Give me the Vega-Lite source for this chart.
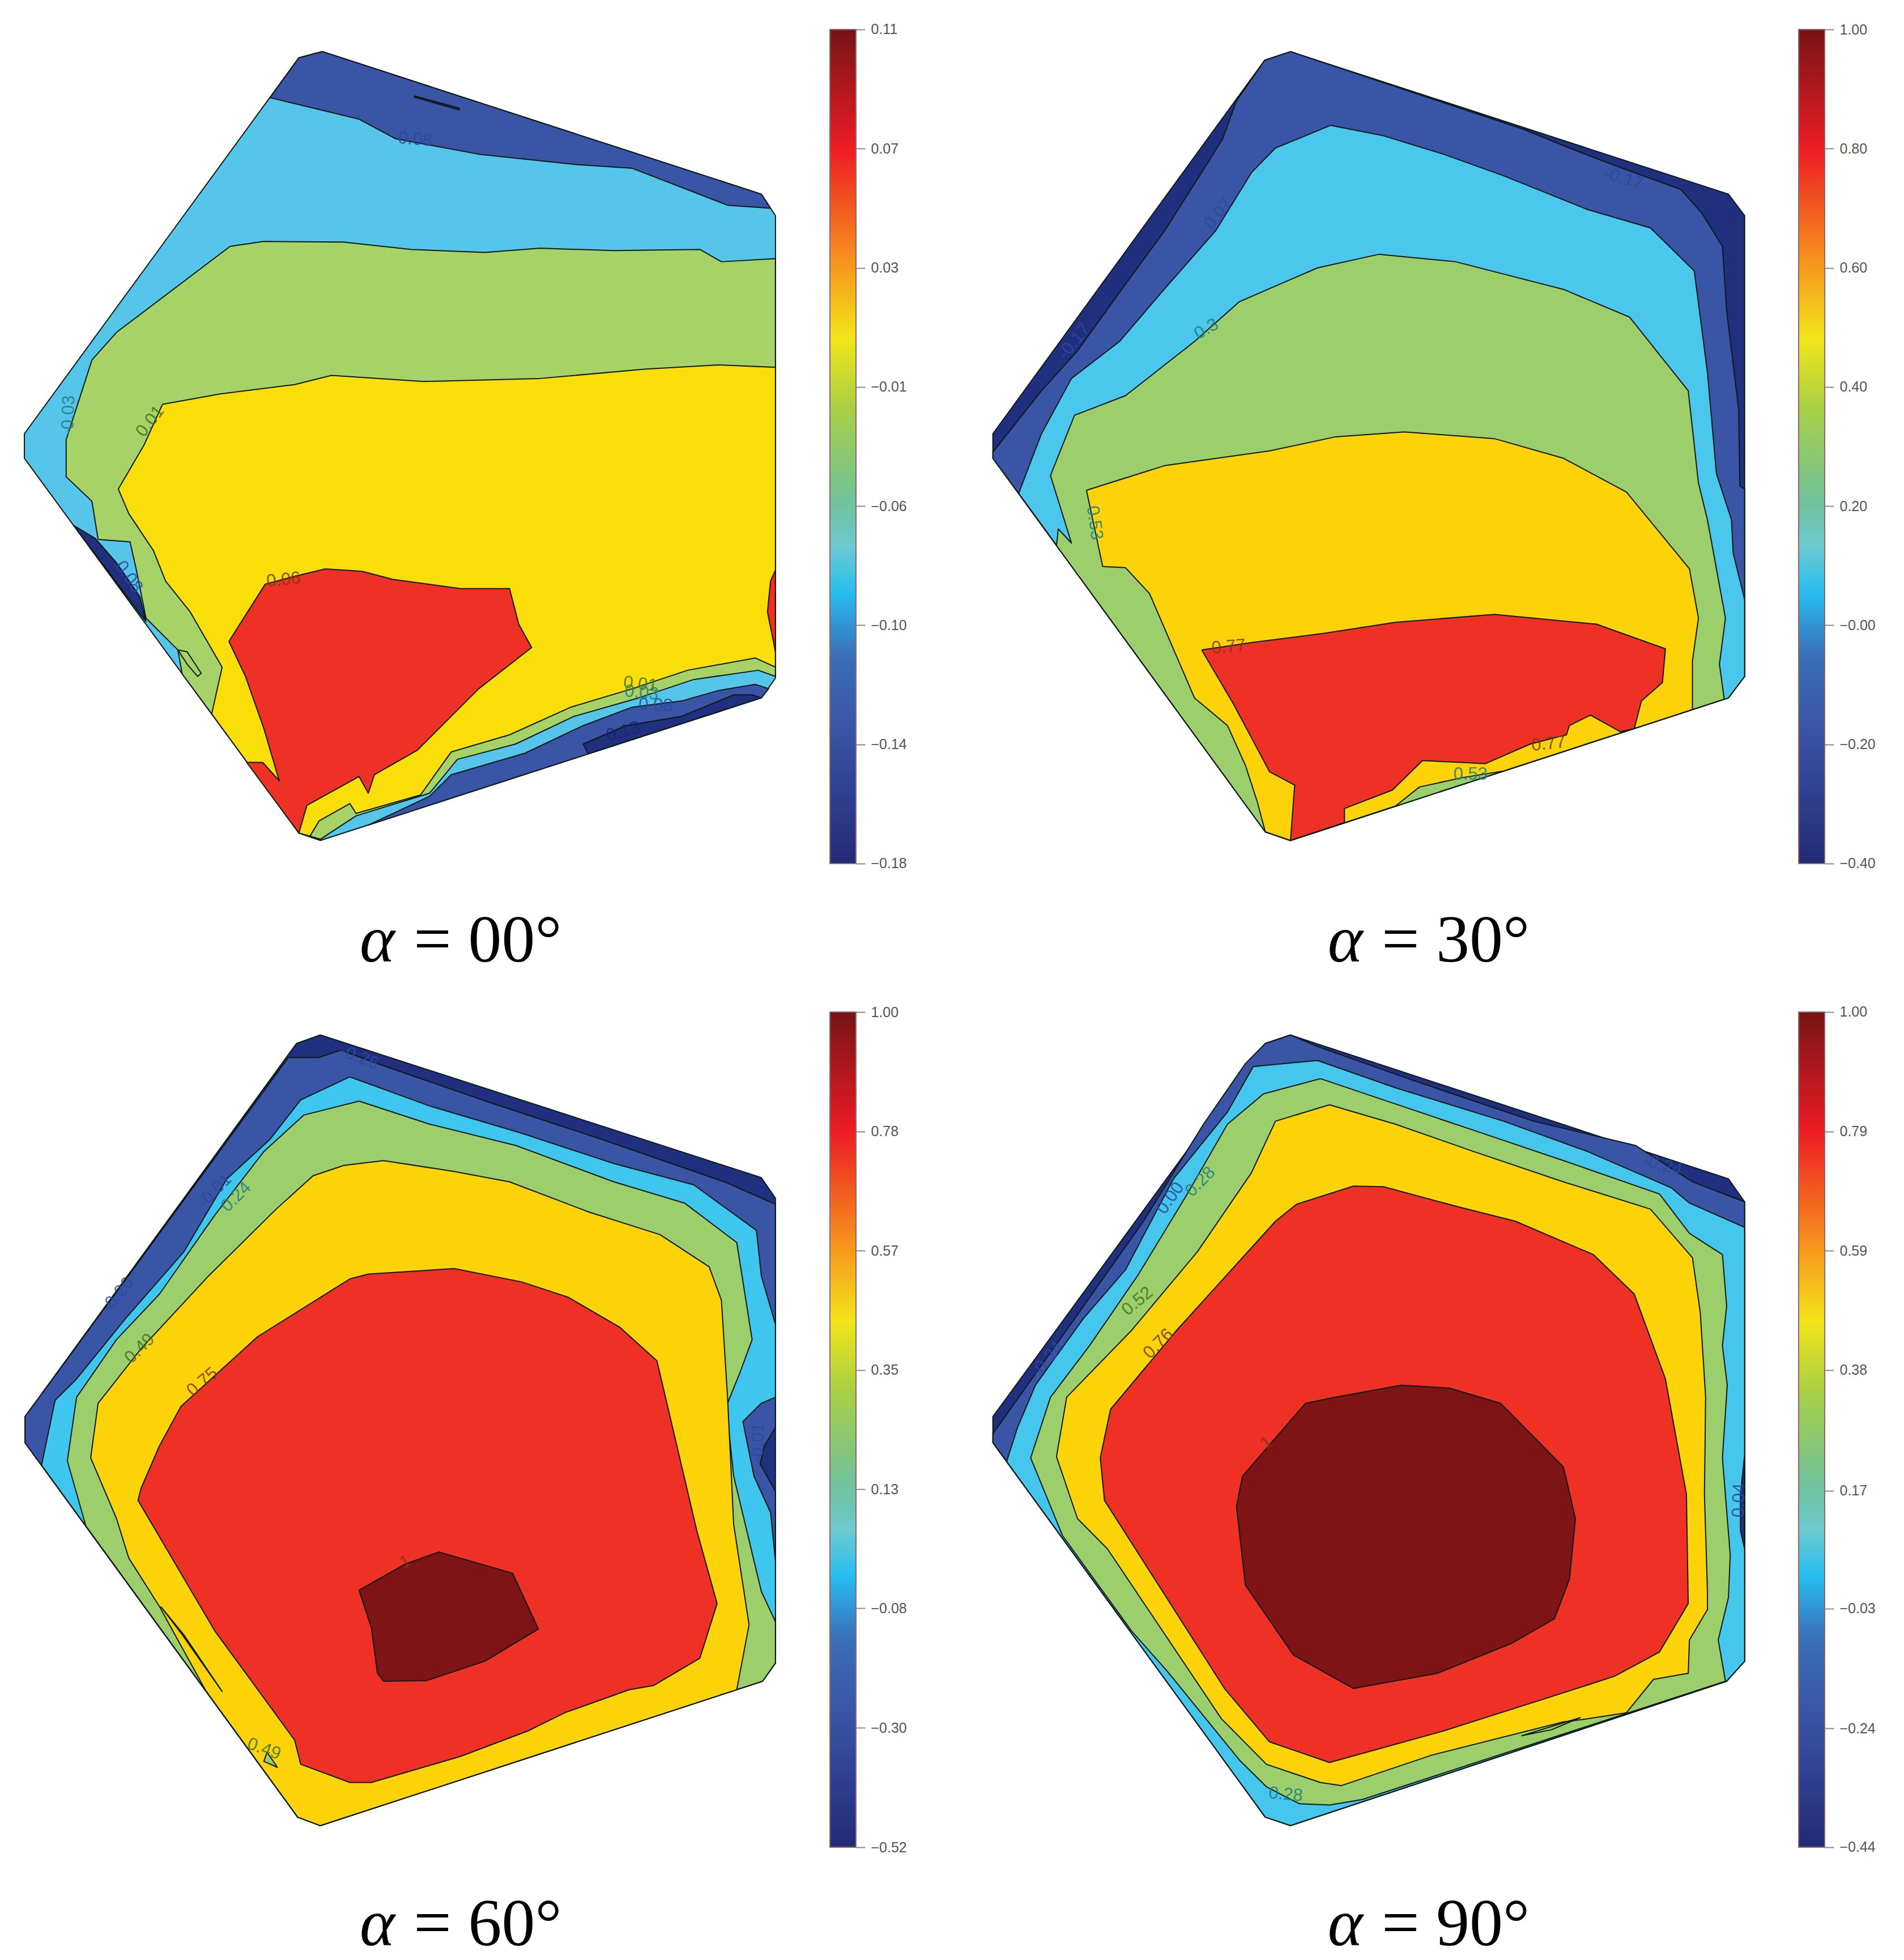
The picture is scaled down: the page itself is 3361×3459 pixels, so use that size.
{"$schema":"https://vega.github.io/schema/vega-lite/v6.json","background":"#ffffff","padding":0,"autosize":{"type":"pad"},"columns":4,"spacing":0,"bounds":"flush","config":{"view":{"stroke":null}},"resolve":{"scale":{"color":"independent","x":"independent","y":"independent"}},
"concat":[
{"width":1465,"height":1738,"encoding":{"x":{"field":"x","type":"quantitative","axis":null,"scale":{"domain":[0.3,1351.7],"nice":false,"zero":false}},"y":{"field":"y","type":"quantitative","axis":null,"scale":{"domain":[1557,-46],"nice":false,"zero":false}}},"resolve":{"scale":{"color":"independent"}},"layer":[
{"data":{"values":[
{"shape":"a","band":"cyan","x":525,"y":38},{"shape":"a","band":"cyan","x":487,"y":48},{"shape":"a","band":"cyan","x":40,"y":660},{"shape":"a","band":"cyan","x":40,"y":700},{"shape":"a","band":"cyan","x":487,"y":1310},{"shape":"a","band":"cyan","x":522,"y":1322},{"shape":"a","band":"cyan","x":1240,"y":1090},{"shape":"a","band":"cyan","x":1263,"y":1058},{"shape":"a","band":"cyan","x":1263,"y":305},{"shape":"a","band":"cyan","x":1240,"y":270},{"shape":"a","band":"cyan","x":525,"y":38},
{"shape":"b","band":"blue","x":525,"y":38},{"shape":"b","band":"blue","x":487,"y":48},{"shape":"b","band":"blue","x":440,"y":113},{"shape":"b","band":"blue","x":585,"y":148},{"shape":"b","band":"blue","x":645,"y":180},{"shape":"b","band":"blue","x":780,"y":205},{"shape":"b","band":"blue","x":940,"y":222},{"shape":"b","band":"blue","x":1030,"y":228},{"shape":"b","band":"blue","x":1185,"y":288},{"shape":"b","band":"blue","x":1255,"y":293},{"shape":"b","band":"blue","x":1240,"y":270},{"shape":"b","band":"blue","x":525,"y":38},
{"shape":"c","band":"navy","x":675,"y":110},{"shape":"c","band":"navy","x":748,"y":130},{"shape":"c","band":"navy","x":748,"y":133},{"shape":"c","band":"navy","x":675,"y":112},{"shape":"c","band":"navy","x":675,"y":110},
{"shape":"d","band":"navy","x":120,"y":809},{"shape":"d","band":"navy","x":155,"y":830},{"shape":"d","band":"navy","x":190,"y":870},{"shape":"d","band":"navy","x":228,"y":925},{"shape":"d","band":"navy","x":238,"y":966},{"shape":"d","band":"navy","x":120,"y":809},
{"shape":"e","band":"green","x":375,"y":355},{"shape":"e","band":"green","x":430,"y":347},{"shape":"e","band":"green","x":560,"y":348},{"shape":"e","band":"green","x":670,"y":360},{"shape":"e","band":"green","x":790,"y":365},{"shape":"e","band":"green","x":880,"y":358},{"shape":"e","band":"green","x":1000,"y":362},{"shape":"e","band":"green","x":1140,"y":360},{"shape":"e","band":"green","x":1175,"y":380},{"shape":"e","band":"green","x":1263,"y":375},{"shape":"e","band":"green","x":1263,"y":1055},{"shape":"e","band":"green","x":1235,"y":1045},{"shape":"e","band":"green","x":1130,"y":1060},{"shape":"e","band":"green","x":1040,"y":1090},{"shape":"e","band":"green","x":935,"y":1120},{"shape":"e","band":"green","x":840,"y":1165},{"shape":"e","band":"green","x":745,"y":1190},{"shape":"e","band":"green","x":700,"y":1245},{"shape":"e","band":"green","x":580,"y":1282},{"shape":"e","band":"green","x":522,"y":1320},{"shape":"e","band":"green","x":505,"y":1315},{"shape":"e","band":"green","x":345,"y":1116},{"shape":"e","band":"green","x":297,"y":1051},{"shape":"e","band":"green","x":290,"y":1012},{"shape":"e","band":"green","x":305,"y":1015},{"shape":"e","band":"green","x":328,"y":1050},{"shape":"e","band":"green","x":322,"y":1055},{"shape":"e","band":"green","x":305,"y":1035},{"shape":"e","band":"green","x":290,"y":1012},{"shape":"e","band":"green","x":238,"y":960},{"shape":"e","band":"green","x":222,"y":880},{"shape":"e","band":"green","x":212,"y":836},{"shape":"e","band":"green","x":160,"y":832},{"shape":"e","band":"green","x":150,"y":770},{"shape":"e","band":"green","x":108,"y":730},{"shape":"e","band":"green","x":108,"y":670},{"shape":"e","band":"green","x":150,"y":540},{"shape":"e","band":"green","x":190,"y":495},{"shape":"e","band":"green","x":375,"y":355},
{"shape":"f","band":"yellow","x":265,"y":612},{"shape":"f","band":"yellow","x":360,"y":595},{"shape":"f","band":"yellow","x":480,"y":580},{"shape":"f","band":"yellow","x":540,"y":565},{"shape":"f","band":"yellow","x":690,"y":575},{"shape":"f","band":"yellow","x":880,"y":570},{"shape":"f","band":"yellow","x":1050,"y":555},{"shape":"f","band":"yellow","x":1170,"y":548},{"shape":"f","band":"yellow","x":1263,"y":552},{"shape":"f","band":"yellow","x":1263,"y":1040},{"shape":"f","band":"yellow","x":1230,"y":1025},{"shape":"f","band":"yellow","x":1120,"y":1045},{"shape":"f","band":"yellow","x":1030,"y":1075},{"shape":"f","band":"yellow","x":930,"y":1105},{"shape":"f","band":"yellow","x":830,"y":1150},{"shape":"f","band":"yellow","x":735,"y":1178},{"shape":"f","band":"yellow","x":685,"y":1248},{"shape":"f","band":"yellow","x":580,"y":1278},{"shape":"f","band":"yellow","x":570,"y":1262},{"shape":"f","band":"yellow","x":520,"y":1290},{"shape":"f","band":"yellow","x":505,"y":1315},{"shape":"f","band":"yellow","x":487,"y":1310},{"shape":"f","band":"yellow","x":345,"y":1116},{"shape":"f","band":"yellow","x":362,"y":1040},{"shape":"f","band":"yellow","x":310,"y":950},{"shape":"f","band":"yellow","x":270,"y":900},{"shape":"f","band":"yellow","x":250,"y":850},{"shape":"f","band":"yellow","x":210,"y":790},{"shape":"f","band":"yellow","x":193,"y":750},{"shape":"f","band":"yellow","x":235,"y":678},{"shape":"f","band":"yellow","x":265,"y":612},
{"shape":"g","band":"red","x":432,"y":905},{"shape":"g","band":"red","x":480,"y":892},{"shape":"g","band":"red","x":530,"y":880},{"shape":"g","band":"red","x":590,"y":884},{"shape":"g","band":"red","x":640,"y":897},{"shape":"g","band":"red","x":750,"y":912},{"shape":"g","band":"red","x":830,"y":912},{"shape":"g","band":"red","x":845,"y":970},{"shape":"g","band":"red","x":866,"y":1008},{"shape":"g","band":"red","x":780,"y":1075},{"shape":"g","band":"red","x":730,"y":1125},{"shape":"g","band":"red","x":680,"y":1175},{"shape":"g","band":"red","x":610,"y":1215},{"shape":"g","band":"red","x":600,"y":1245},{"shape":"g","band":"red","x":585,"y":1218},{"shape":"g","band":"red","x":500,"y":1265},{"shape":"g","band":"red","x":487,"y":1310},{"shape":"g","band":"red","x":402,"y":1195},{"shape":"g","band":"red","x":428,"y":1195},{"shape":"g","band":"red","x":455,"y":1225},{"shape":"g","band":"red","x":430,"y":1140},{"shape":"g","band":"red","x":400,"y":1055},{"shape":"g","band":"red","x":373,"y":998},{"shape":"g","band":"red","x":432,"y":905},
{"shape":"h","band":"red","x":1263,"y":882},{"shape":"h","band":"red","x":1255,"y":900},{"shape":"h","band":"red","x":1250,"y":950},{"shape":"h","band":"red","x":1258,"y":990},{"shape":"h","band":"red","x":1263,"y":1015},{"shape":"h","band":"red","x":1263,"y":882},
{"shape":"i","band":"blue","x":1230,"y":1068},{"shape":"i","band":"blue","x":1170,"y":1078},{"shape":"i","band":"blue","x":1110,"y":1095},{"shape":"i","band":"blue","x":1030,"y":1105},{"shape":"i","band":"blue","x":950,"y":1135},{"shape":"i","band":"blue","x":855,"y":1180},{"shape":"i","band":"blue","x":735,"y":1215},{"shape":"i","band":"blue","x":700,"y":1250},{"shape":"i","band":"blue","x":600,"y":1297},{"shape":"i","band":"blue","x":1240,"y":1090},{"shape":"i","band":"blue","x":1252,"y":1075},{"shape":"i","band":"blue","x":1230,"y":1068},
{"shape":"j","band":"navy","x":1240,"y":1090},{"shape":"j","band":"navy","x":1225,"y":1085},{"shape":"j","band":"navy","x":1195,"y":1085},{"shape":"j","band":"navy","x":1110,"y":1120},{"shape":"j","band":"navy","x":1020,"y":1135},{"shape":"j","band":"navy","x":950,"y":1165},{"shape":"j","band":"navy","x":958,"y":1181},{"shape":"j","band":"navy","x":1240,"y":1090}
]},"mark":{"type":"line","filled":true,"stroke":"#0c1a16","strokeWidth":2,"strokeJoin":"round"},"encoding":{"detail":{"field":"shape"},"order":{"value":null},"color":{"field":"band","type":"nominal","legend":null,"scale":{"domain":["navy","blue","cyan","green","yellow","red","maroon"],"range":["#20307f","#3a55a5","#55c6ea","#a6d267","#fade0a","#ee3124","#7f1416"]}}}},
{"data":{"values":[
{"x":676,"y":181,"label":"0.08","angle":5,"tone":"blue"},{"x":112,"y":630,"label":"-0.03","angle":-88,"tone":"teal"},{"x":245,"y":640,"label":"0.01","angle":-52,"tone":"olive"},{"x":462,"y":898,"label":"0.06","angle":-6,"tone":"rust"},{"x":210,"y":893,"label":"0.08","angle":55,"tone":"blue"},{"x":1043,"y":1068,"label":"0.01","angle":6,"tone":"olive"},{"x":1045,"y":1082,"label":"0.03","angle":6,"tone":"teal"},{"x":1068,"y":1102,"label":"0.08","angle":2,"tone":"blue"},{"x":1015,"y":1145,"label":"0.13","angle":-16,"tone":"navy"}
]},"mark":{"type":"text","font":"Liberation Sans","fontSize":31,"opacity":0.85},"encoding":{"text":{"field":"label"},"angle":{"field":"angle","type":"quantitative","scale":null},"color":{"field":"tone","type":"nominal","legend":null,"scale":{"domain":["navy","blue","teal","olive","rust"],"range":["#1b2370","#2a4aa0","#1f7f85","#46701f","#7d3a18"]}}}},
{"data":{"values":[{"x":586,"y":1519.5,"text":"α"}]},"mark":{"type":"text","font":"Liberation Serif","fontStyle":"italic","fontSize":118,"align":"left","baseline":"alphabetic","color":"#000000"},"encoding":{"text":{"field":"text"}}},
{"data":{"values":[{"x":674,"y":1519.5,"text":"= 00°"}]},"mark":{"type":"text","font":"Liberation Serif","fontSize":118,"align":"left","baseline":"alphabetic","color":"#000000"},"encoding":{"text":{"field":"text"}}}
]},
{"width":46,"height":1738,"data":{"values":[{"low":-0.18,"high":0.11}]},"mark":{"type":"rect","stroke":"#8f6a6a","strokeWidth":2,"fill":{"gradient":"linear","x1":0,"y1":0,"x2":0,"y2":1,"stops":[{"offset":0,"color":"#761417"},{"offset":0.143,"color":"#ed1c24"},{"offset":0.28,"color":"#f7941d"},{"offset":0.37,"color":"#f2e51a"},{"offset":0.455,"color":"#a8cf45"},{"offset":0.565,"color":"#70c19a"},{"offset":0.62,"color":"#6dcad0"},{"offset":0.675,"color":"#27bdef"},{"offset":0.75,"color":"#3a6fb8"},{"offset":0.845,"color":"#3a53a4"},{"offset":1,"color":"#232a78"}]}},"encoding":{"y":{"field":"high","type":"quantitative","scale":{"domain":[-0.22216,0.12024],"nice":false,"zero":false},"axis":{"orient":"right","title":null,"domain":false,"grid":false,"values":[0.11,0.0686,0.0271,-0.0143,-0.0557,-0.0971,-0.1386,-0.18],"format":".2f","tickColor":"#8a8a8a","tickSize":16,"tickWidth":2,"labelFont":"Liberation Sans","labelFontSize":25,"labelColor":"#555555","labelPadding":10,"labelOverlap":false,"labelBound":false,"labelFlush":false}},"y2":{"field":"low"}}},
{"width":1664,"height":1738,"encoding":{"x":{"field":"x","type":"quantitative","axis":null,"scale":{"domain":[-179.2,1392],"nice":false,"zero":false}},"y":{"field":"y","type":"quantitative","axis":null,"scale":{"domain":[1557,-46],"nice":false,"zero":false}}},"resolve":{"scale":{"color":"independent"}},"layer":[
{"data":{"values":[
{"shape":"a","band":"navy","x":545,"y":38},{"shape":"a","band":"navy","x":502,"y":52},{"shape":"a","band":"navy","x":49,"y":660},{"shape":"a","band":"navy","x":49,"y":700},{"shape":"a","band":"navy","x":503,"y":1308},{"shape":"a","band":"navy","x":545,"y":1322},{"shape":"a","band":"navy","x":1275,"y":1090},{"shape":"a","band":"navy","x":1302,"y":1055},{"shape":"a","band":"navy","x":1302,"y":305},{"shape":"a","band":"navy","x":1275,"y":270},{"shape":"a","band":"navy","x":545,"y":38},
{"shape":"b","band":"blue","x":545,"y":38},{"shape":"b","band":"blue","x":935,"y":165},{"shape":"b","band":"blue","x":1010,"y":195},{"shape":"b","band":"blue","x":1090,"y":225},{"shape":"b","band":"blue","x":1195,"y":262},{"shape":"b","band":"blue","x":1230,"y":300},{"shape":"b","band":"blue","x":1265,"y":355},{"shape":"b","band":"blue","x":1272,"y":460},{"shape":"b","band":"blue","x":1292,"y":620},{"shape":"b","band":"blue","x":1294,"y":745},{"shape":"b","band":"blue","x":1302,"y":750},{"shape":"b","band":"blue","x":1302,"y":932},{"shape":"b","band":"blue","x":1302,"y":1055},{"shape":"b","band":"blue","x":1275,"y":1090},{"shape":"b","band":"blue","x":545,"y":1322},{"shape":"b","band":"blue","x":503,"y":1308},{"shape":"b","band":"blue","x":49,"y":700},{"shape":"b","band":"blue","x":49,"y":690},{"shape":"b","band":"blue","x":130,"y":590},{"shape":"b","band":"blue","x":190,"y":525},{"shape":"b","band":"blue","x":260,"y":430},{"shape":"b","band":"blue","x":335,"y":330},{"shape":"b","band":"blue","x":400,"y":230},{"shape":"b","band":"blue","x":432,"y":180},{"shape":"b","band":"blue","x":455,"y":118},{"shape":"b","band":"blue","x":502,"y":52},{"shape":"b","band":"blue","x":545,"y":38},
{"shape":"c","band":"cyan","x":612,"y":158},{"shape":"c","band":"cyan","x":700,"y":175},{"shape":"c","band":"cyan","x":800,"y":205},{"shape":"c","band":"cyan","x":900,"y":240},{"shape":"c","band":"cyan","x":1040,"y":295},{"shape":"c","band":"cyan","x":1145,"y":325},{"shape":"c","band":"cyan","x":1218,"y":395},{"shape":"c","band":"cyan","x":1240,"y":560},{"shape":"c","band":"cyan","x":1255,"y":725},{"shape":"c","band":"cyan","x":1280,"y":800},{"shape":"c","band":"cyan","x":1283,"y":855},{"shape":"c","band":"cyan","x":1302,"y":930},{"shape":"c","band":"cyan","x":1302,"y":1055},{"shape":"c","band":"cyan","x":1275,"y":1090},{"shape":"c","band":"cyan","x":545,"y":1322},{"shape":"c","band":"cyan","x":503,"y":1308},{"shape":"c","band":"cyan","x":92,"y":757},{"shape":"c","band":"cyan","x":130,"y":660},{"shape":"c","band":"cyan","x":180,"y":570},{"shape":"c","band":"cyan","x":260,"y":510},{"shape":"c","band":"cyan","x":330,"y":430},{"shape":"c","band":"cyan","x":420,"y":330},{"shape":"c","band":"cyan","x":480,"y":235},{"shape":"c","band":"cyan","x":520,"y":195},{"shape":"c","band":"cyan","x":612,"y":158},
{"shape":"d","band":"green","x":692,"y":368},{"shape":"d","band":"green","x":820,"y":380},{"shape":"d","band":"green","x":1000,"y":425},{"shape":"d","band":"green","x":1110,"y":470},{"shape":"d","band":"green","x":1208,"y":590},{"shape":"d","band":"green","x":1225,"y":740},{"shape":"d","band":"green","x":1240,"y":800},{"shape":"d","band":"green","x":1270,"y":960},{"shape":"d","band":"green","x":1260,"y":1035},{"shape":"d","band":"green","x":1268,"y":1092},{"shape":"d","band":"green","x":545,"y":1322},{"shape":"d","band":"green","x":503,"y":1308},{"shape":"d","band":"green","x":155,"y":842},{"shape":"d","band":"green","x":158,"y":815},{"shape":"d","band":"green","x":180,"y":838},{"shape":"d","band":"green","x":145,"y":728},{"shape":"d","band":"green","x":185,"y":630},{"shape":"d","band":"green","x":270,"y":598},{"shape":"d","band":"green","x":385,"y":510},{"shape":"d","band":"green","x":460,"y":445},{"shape":"d","band":"green","x":590,"y":390},{"shape":"d","band":"green","x":692,"y":368},
{"shape":"e","band":"yellow","x":205,"y":752},{"shape":"e","band":"yellow","x":335,"y":712},{"shape":"e","band":"yellow","x":510,"y":688},{"shape":"e","band":"yellow","x":620,"y":665},{"shape":"e","band":"yellow","x":735,"y":657},{"shape":"e","band":"yellow","x":885,"y":668},{"shape":"e","band":"yellow","x":1000,"y":700},{"shape":"e","band":"yellow","x":1105,"y":755},{"shape":"e","band":"yellow","x":1210,"y":880},{"shape":"e","band":"yellow","x":1225,"y":960},{"shape":"e","band":"yellow","x":1215,"y":1030},{"shape":"e","band":"yellow","x":1215,"y":1109},{"shape":"e","band":"yellow","x":900,"y":1209},{"shape":"e","band":"yellow","x":830,"y":1220},{"shape":"e","band":"yellow","x":760,"y":1235},{"shape":"e","band":"yellow","x":720,"y":1266},{"shape":"e","band":"yellow","x":545,"y":1322},{"shape":"e","band":"yellow","x":503,"y":1308},{"shape":"e","band":"yellow","x":490,"y":1260},{"shape":"e","band":"yellow","x":470,"y":1200},{"shape":"e","band":"yellow","x":440,"y":1135},{"shape":"e","band":"yellow","x":385,"y":1090},{"shape":"e","band":"yellow","x":310,"y":920},{"shape":"e","band":"yellow","x":270,"y":878},{"shape":"e","band":"yellow","x":232,"y":876},{"shape":"e","band":"yellow","x":205,"y":752},
{"shape":"f","band":"red","x":397,"y":1012},{"shape":"f","band":"red","x":480,"y":1000},{"shape":"f","band":"red","x":600,"y":985},{"shape":"f","band":"red","x":720,"y":967},{"shape":"f","band":"red","x":885,"y":954},{"shape":"f","band":"red","x":1055,"y":970},{"shape":"f","band":"red","x":1170,"y":1010},{"shape":"f","band":"red","x":1165,"y":1065},{"shape":"f","band":"red","x":1130,"y":1095},{"shape":"f","band":"red","x":1118,"y":1140},{"shape":"f","band":"red","x":1095,"y":1145},{"shape":"f","band":"red","x":1045,"y":1118},{"shape":"f","band":"red","x":1010,"y":1135},{"shape":"f","band":"red","x":1005,"y":1150},{"shape":"f","band":"red","x":945,"y":1165},{"shape":"f","band":"red","x":870,"y":1197},{"shape":"f","band":"red","x":830,"y":1195},{"shape":"f","band":"red","x":765,"y":1192},{"shape":"f","band":"red","x":715,"y":1240},{"shape":"f","band":"red","x":635,"y":1270},{"shape":"f","band":"red","x":635,"y":1293},{"shape":"f","band":"red","x":545,"y":1322},{"shape":"f","band":"red","x":552,"y":1232},{"shape":"f","band":"red","x":510,"y":1210},{"shape":"f","band":"red","x":480,"y":1155},{"shape":"f","band":"red","x":450,"y":1100},{"shape":"f","band":"red","x":397,"y":1012}
]},"mark":{"type":"line","filled":true,"stroke":"#0c1a16","strokeWidth":2,"strokeJoin":"round"},"encoding":{"detail":{"field":"shape"},"order":{"value":null},"color":{"field":"band","type":"nominal","legend":null,"scale":{"domain":["navy","blue","cyan","green","yellow","red","maroon"],"range":["#20307f","#3a55a5","#4bc6ec","#9dce6c","#fcd309","#ee3124","#7f1416"]}}}},
{"data":{"values":[
{"x":845,"y":1215,"label":"0.53","angle":0,"tone":"teal"},{"x":975,"y":1165,"label":"0.77","angle":-6,"tone":"rust"},{"x":442,"y":1007,"label":"0.77","angle":-5,"tone":"rust"},{"x":218,"y":805,"label":"0.53","angle":82,"tone":"teal"},{"x":405,"y":490,"label":"0.3","angle":-30,"tone":"teal"},{"x":425,"y":302,"label":"0.07","angle":-50,"tone":"blue"},{"x":185,"y":510,"label":"-0.17","angle":-50,"tone":"blue"},{"x":1100,"y":245,"label":"-0.17","angle":16,"tone":"blue"}
]},"mark":{"type":"text","font":"Liberation Sans","fontSize":31,"opacity":0.85},"encoding":{"text":{"field":"label"},"angle":{"field":"angle","type":"quantitative","scale":null},"color":{"field":"tone","type":"nominal","legend":null,"scale":{"domain":["navy","blue","teal","olive","rust"],"range":["#1b2370","#2a4aa0","#1f7f85","#46701f","#7d3a18"]}}}},
{"data":{"values":[{"x":607,"y":1519.5,"text":"α"}]},"mark":{"type":"text","font":"Liberation Serif","fontStyle":"italic","fontSize":118,"align":"left","baseline":"alphabetic","color":"#000000"},"encoding":{"text":{"field":"text"}}},
{"data":{"values":[{"x":697,"y":1519.5,"text":"= 30°"}]},"mark":{"type":"text","font":"Liberation Serif","fontSize":118,"align":"left","baseline":"alphabetic","color":"#000000"},"encoding":{"text":{"field":"text"}}}
]},
{"width":46,"height":1738,"data":{"values":[{"low":-0.4,"high":1}]},"mark":{"type":"rect","stroke":"#8f6a6a","strokeWidth":2,"fill":{"gradient":"linear","x1":0,"y1":0,"x2":0,"y2":1,"stops":[{"offset":0,"color":"#761417"},{"offset":0.143,"color":"#ed1c24"},{"offset":0.28,"color":"#f7941d"},{"offset":0.37,"color":"#f2e51a"},{"offset":0.455,"color":"#a8cf45"},{"offset":0.565,"color":"#70c19a"},{"offset":0.62,"color":"#6dcad0"},{"offset":0.675,"color":"#27bdef"},{"offset":0.75,"color":"#3a6fb8"},{"offset":0.845,"color":"#3a53a4"},{"offset":1,"color":"#232a78"}]}},"encoding":{"y":{"field":"high","type":"quantitative","scale":{"domain":[-0.60354,1.04946],"nice":false,"zero":false},"axis":{"orient":"right","title":null,"domain":false,"grid":false,"values":[1,0.8,0.6,0.4,0.2,0,-0.2,-0.4],"format":".2f","labelExpr":"datum.value === 0 ? '−0.00' : datum.label","tickColor":"#8a8a8a","tickSize":16,"tickWidth":2,"labelFont":"Liberation Sans","labelFontSize":25,"labelColor":"#555555","labelPadding":10,"labelOverlap":false,"labelBound":false,"labelFlush":false}},"y2":{"field":"low"}}},
{"width":1465,"height":1721,"encoding":{"x":{"field":"x","type":"quantitative","axis":null,"scale":{"domain":[0.3,1351.7],"nice":false,"zero":false}},"y":{"field":"y","type":"quantitative","axis":null,"scale":{"domain":[1567.5,-39.7],"nice":false,"zero":false}}},"resolve":{"scale":{"color":"independent"}},"layer":[
{"data":{"values":[
{"shape":"a","band":"navy","x":522,"y":43},{"shape":"a","band":"navy","x":483,"y":57},{"shape":"a","band":"navy","x":41,"y":672},{"shape":"a","band":"navy","x":41,"y":715},{"shape":"a","band":"navy","x":485,"y":1332},{"shape":"a","band":"navy","x":522,"y":1346},{"shape":"a","band":"navy","x":1242,"y":1108},{"shape":"a","band":"navy","x":1263,"y":1078},{"shape":"a","band":"navy","x":1263,"y":312},{"shape":"a","band":"navy","x":1240,"y":278},{"shape":"a","band":"navy","x":522,"y":43},
{"shape":"b","band":"blue","x":470,"y":80},{"shape":"b","band":"blue","x":520,"y":80},{"shape":"b","band":"blue","x":555,"y":68},{"shape":"b","band":"blue","x":620,"y":92},{"shape":"b","band":"blue","x":800,"y":155},{"shape":"b","band":"blue","x":980,"y":215},{"shape":"b","band":"blue","x":1180,"y":285},{"shape":"b","band":"blue","x":1263,"y":322},{"shape":"b","band":"blue","x":1263,"y":690},{"shape":"b","band":"blue","x":1245,"y":720},{"shape":"b","band":"blue","x":1238,"y":750},{"shape":"b","band":"blue","x":1263,"y":795},{"shape":"b","band":"blue","x":1263,"y":1078},{"shape":"b","band":"blue","x":1242,"y":1108},{"shape":"b","band":"blue","x":522,"y":1346},{"shape":"b","band":"blue","x":485,"y":1332},{"shape":"b","band":"blue","x":41,"y":715},{"shape":"b","band":"blue","x":41,"y":672},{"shape":"b","band":"blue","x":470,"y":80},
{"shape":"c","band":"cyan","x":570,"y":112},{"shape":"c","band":"cyan","x":700,"y":160},{"shape":"c","band":"cyan","x":850,"y":205},{"shape":"c","band":"cyan","x":1000,"y":255},{"shape":"c","band":"cyan","x":1130,"y":290},{"shape":"c","band":"cyan","x":1232,"y":365},{"shape":"c","band":"cyan","x":1240,"y":440},{"shape":"c","band":"cyan","x":1263,"y":520},{"shape":"c","band":"cyan","x":1263,"y":640},{"shape":"c","band":"cyan","x":1240,"y":650},{"shape":"c","band":"cyan","x":1210,"y":680},{"shape":"c","band":"cyan","x":1228,"y":770},{"shape":"c","band":"cyan","x":1255,"y":830},{"shape":"c","band":"cyan","x":1263,"y":910},{"shape":"c","band":"cyan","x":1263,"y":1078},{"shape":"c","band":"cyan","x":1242,"y":1108},{"shape":"c","band":"cyan","x":522,"y":1346},{"shape":"c","band":"cyan","x":485,"y":1332},{"shape":"c","band":"cyan","x":68,"y":752},{"shape":"c","band":"cyan","x":90,"y":645},{"shape":"c","band":"cyan","x":125,"y":610},{"shape":"c","band":"cyan","x":205,"y":510},{"shape":"c","band":"cyan","x":300,"y":400},{"shape":"c","band":"cyan","x":370,"y":280},{"shape":"c","band":"cyan","x":440,"y":215},{"shape":"c","band":"cyan","x":490,"y":150},{"shape":"c","band":"cyan","x":570,"y":112},
{"shape":"d","band":"green","x":585,"y":152},{"shape":"d","band":"green","x":700,"y":190},{"shape":"d","band":"green","x":840,"y":225},{"shape":"d","band":"green","x":1000,"y":285},{"shape":"d","band":"green","x":1115,"y":320},{"shape":"d","band":"green","x":1200,"y":385},{"shape":"d","band":"green","x":1225,"y":545},{"shape":"d","band":"green","x":1205,"y":600},{"shape":"d","band":"green","x":1183,"y":655},{"shape":"d","band":"green","x":1195,"y":770},{"shape":"d","band":"green","x":1240,"y":960},{"shape":"d","band":"green","x":1263,"y":1010},{"shape":"d","band":"green","x":1263,"y":1078},{"shape":"d","band":"green","x":1242,"y":1108},{"shape":"d","band":"green","x":522,"y":1346},{"shape":"d","band":"green","x":485,"y":1332},{"shape":"d","band":"green","x":140,"y":852},{"shape":"d","band":"green","x":110,"y":745},{"shape":"d","band":"green","x":125,"y":640},{"shape":"d","band":"green","x":190,"y":545},{"shape":"d","band":"green","x":260,"y":470},{"shape":"d","band":"green","x":350,"y":340},{"shape":"d","band":"green","x":430,"y":235},{"shape":"d","band":"green","x":495,"y":175},{"shape":"d","band":"green","x":585,"y":152},
{"shape":"e","band":"yellow","x":625,"y":250},{"shape":"e","band":"yellow","x":740,"y":268},{"shape":"e","band":"yellow","x":830,"y":285},{"shape":"e","band":"yellow","x":960,"y":335},{"shape":"e","band":"yellow","x":1075,"y":372},{"shape":"e","band":"yellow","x":1155,"y":425},{"shape":"e","band":"yellow","x":1175,"y":480},{"shape":"e","band":"yellow","x":1185,"y":640},{"shape":"e","band":"yellow","x":1195,"y":850},{"shape":"e","band":"yellow","x":1220,"y":1015},{"shape":"e","band":"yellow","x":1200,"y":1122},{"shape":"e","band":"yellow","x":522,"y":1346},{"shape":"e","band":"yellow","x":485,"y":1332},{"shape":"e","band":"yellow","x":335,"y":1123},{"shape":"e","band":"yellow","x":260,"y":985},{"shape":"e","band":"yellow","x":210,"y":905},{"shape":"e","band":"yellow","x":190,"y":840},{"shape":"e","band":"yellow","x":148,"y":740},{"shape":"e","band":"yellow","x":160,"y":650},{"shape":"e","band":"yellow","x":230,"y":560},{"shape":"e","band":"yellow","x":340,"y":440},{"shape":"e","band":"yellow","x":450,"y":330},{"shape":"e","band":"yellow","x":510,"y":275},{"shape":"e","band":"yellow","x":560,"y":258},{"shape":"e","band":"yellow","x":625,"y":250},
{"shape":"f","band":"red","x":740,"y":428},{"shape":"f","band":"red","x":850,"y":450},{"shape":"f","band":"red","x":925,"y":475},{"shape":"f","band":"red","x":1010,"y":525},{"shape":"f","band":"red","x":1070,"y":580},{"shape":"f","band":"red","x":1135,"y":860},{"shape":"f","band":"red","x":1168,"y":980},{"shape":"f","band":"red","x":1140,"y":1070},{"shape":"f","band":"red","x":1065,"y":1115},{"shape":"f","band":"red","x":1025,"y":1122},{"shape":"f","band":"red","x":920,"y":1160},{"shape":"f","band":"red","x":860,"y":1190},{"shape":"f","band":"red","x":750,"y":1232},{"shape":"f","band":"red","x":605,"y":1275},{"shape":"f","band":"red","x":570,"y":1275},{"shape":"f","band":"red","x":490,"y":1245},{"shape":"f","band":"red","x":480,"y":1205},{"shape":"f","band":"red","x":350,"y":1025},{"shape":"f","band":"red","x":225,"y":810},{"shape":"f","band":"red","x":230,"y":790},{"shape":"f","band":"red","x":260,"y":720},{"shape":"f","band":"red","x":295,"y":655},{"shape":"f","band":"red","x":420,"y":540},{"shape":"f","band":"red","x":570,"y":445},{"shape":"f","band":"red","x":600,"y":437},{"shape":"f","band":"red","x":740,"y":428},
{"shape":"g","band":"maroon","x":585,"y":958},{"shape":"g","band":"maroon","x":660,"y":915},{"shape":"g","band":"maroon","x":715,"y":895},{"shape":"g","band":"maroon","x":835,"y":930},{"shape":"g","band":"maroon","x":877,"y":1022},{"shape":"g","band":"maroon","x":790,"y":1075},{"shape":"g","band":"maroon","x":695,"y":1107},{"shape":"g","band":"maroon","x":625,"y":1108},{"shape":"g","band":"maroon","x":615,"y":1095},{"shape":"g","band":"maroon","x":605,"y":1020},{"shape":"g","band":"maroon","x":585,"y":958},
{"shape":"h","band":"green","x":262,"y":985},{"shape":"h","band":"green","x":300,"y":1032},{"shape":"h","band":"green","x":362,"y":1125},{"shape":"h","band":"green","x":296,"y":1030},{"shape":"h","band":"green","x":262,"y":985},
{"shape":"i","band":"green","x":435,"y":1225},{"shape":"i","band":"green","x":452,"y":1250},{"shape":"i","band":"green","x":430,"y":1240},{"shape":"i","band":"green","x":435,"y":1225}
]},"mark":{"type":"line","filled":true,"stroke":"#0c1a16","strokeWidth":2,"strokeJoin":"round"},"encoding":{"detail":{"field":"shape"},"order":{"value":null},"color":{"field":"band","type":"nominal","legend":null,"scale":{"domain":["navy","blue","cyan","green","yellow","red","maroon"],"range":["#20307f","#3a55a5","#3fc6ef","#9dce6c","#fcd309","#ee3124","#7f1416"]}}}},
{"data":{"values":[
{"x":192,"y":472,"label":"-0.26","angle":-50,"tone":"blue"},{"x":350,"y":300,"label":"-0.01","angle":-45,"tone":"blue"},{"x":385,"y":310,"label":"0.24","angle":-45,"tone":"teal"},{"x":228,"y":560,"label":"0.49","angle":-45,"tone":"olive"},{"x":330,"y":615,"label":"0.75","angle":-40,"tone":"rust"},{"x":660,"y":912,"label":"1","angle":-30,"tone":"rust"},{"x":430,"y":1220,"label":"0.49","angle":20,"tone":"olive"},{"x":1235,"y":715,"label":"-0.01","angle":-88,"tone":"blue"},{"x":585,"y":80,"label":"-0.26","angle":22,"tone":"blue"}
]},"mark":{"type":"text","font":"Liberation Sans","fontSize":31,"opacity":0.85},"encoding":{"text":{"field":"label"},"angle":{"field":"angle","type":"quantitative","scale":null},"color":{"field":"tone","type":"nominal","legend":null,"scale":{"domain":["navy","blue","teal","olive","rust"],"range":["#1b2370","#2a4aa0","#1f7f85","#46701f","#7d3a18"]}}}},
{"data":{"values":[{"x":586,"y":1543,"text":"α"}]},"mark":{"type":"text","font":"Liberation Serif","fontStyle":"italic","fontSize":118,"align":"left","baseline":"alphabetic","color":"#000000"},"encoding":{"text":{"field":"text"}}},
{"data":{"values":[{"x":674,"y":1543,"text":"= 60°"}]},"mark":{"type":"text","font":"Liberation Serif","fontSize":118,"align":"left","baseline":"alphabetic","color":"#000000"},"encoding":{"text":{"field":"text"}}}
]},
{"width":46,"height":1721,"data":{"values":[{"low":-0.52,"high":1}]},"mark":{"type":"rect","stroke":"#8f6a6a","strokeWidth":2,"fill":{"gradient":"linear","x1":0,"y1":0,"x2":0,"y2":1,"stops":[{"offset":0,"color":"#761417"},{"offset":0.143,"color":"#ed1c24"},{"offset":0.28,"color":"#f7941d"},{"offset":0.37,"color":"#f2e51a"},{"offset":0.455,"color":"#a8cf45"},{"offset":0.565,"color":"#70c19a"},{"offset":0.62,"color":"#6dcad0"},{"offset":0.675,"color":"#27bdef"},{"offset":0.75,"color":"#3a6fb8"},{"offset":0.845,"color":"#3a53a4"},{"offset":1,"color":"#232a78"}]}},"encoding":{"y":{"field":"high","type":"quantitative","scale":{"domain":[-0.72521,1.0495],"nice":false,"zero":false},"axis":{"orient":"right","title":null,"domain":false,"grid":false,"values":[1,0.7829,0.5657,0.3486,0.1314,-0.0849,-0.3029,-0.52],"format":".2f","tickColor":"#8a8a8a","tickSize":16,"tickWidth":2,"labelFont":"Liberation Sans","labelFontSize":25,"labelColor":"#555555","labelPadding":10,"labelOverlap":false,"labelBound":false,"labelFlush":false}},"y2":{"field":"low"}}},
{"width":1664,"height":1721,"encoding":{"x":{"field":"x","type":"quantitative","axis":null,"scale":{"domain":[-179.2,1392],"nice":false,"zero":false}},"y":{"field":"y","type":"quantitative","axis":null,"scale":{"domain":[1567.5,-39.7],"nice":false,"zero":false}}},"resolve":{"scale":{"color":"independent"}},"layer":[
{"data":{"values":[
{"shape":"a","band":"navy","x":545,"y":43},{"shape":"a","band":"navy","x":503,"y":57},{"shape":"a","band":"navy","x":49,"y":672},{"shape":"a","band":"navy","x":49,"y":715},{"shape":"a","band":"navy","x":503,"y":1332},{"shape":"a","band":"navy","x":545,"y":1346},{"shape":"a","band":"navy","x":1272,"y":1108},{"shape":"a","band":"navy","x":1302,"y":1075},{"shape":"a","band":"navy","x":1302,"y":318},{"shape":"a","band":"navy","x":1275,"y":280},{"shape":"a","band":"navy","x":545,"y":43},
{"shape":"b","band":"blue","x":503,"y":57},{"shape":"b","band":"blue","x":545,"y":43},{"shape":"b","band":"blue","x":590,"y":62},{"shape":"b","band":"blue","x":750,"y":118},{"shape":"b","band":"blue","x":950,"y":185},{"shape":"b","band":"blue","x":1120,"y":225},{"shape":"b","band":"blue","x":1215,"y":285},{"shape":"b","band":"blue","x":1302,"y":318},{"shape":"b","band":"blue","x":1302,"y":1075},{"shape":"b","band":"blue","x":1272,"y":1108},{"shape":"b","band":"blue","x":545,"y":1346},{"shape":"b","band":"blue","x":503,"y":1332},{"shape":"b","band":"blue","x":49,"y":715},{"shape":"b","band":"blue","x":49,"y":700},{"shape":"b","band":"blue","x":85,"y":650},{"shape":"b","band":"blue","x":200,"y":490},{"shape":"b","band":"blue","x":300,"y":350},{"shape":"b","band":"blue","x":400,"y":190},{"shape":"b","band":"blue","x":470,"y":90},{"shape":"b","band":"blue","x":503,"y":57},
{"shape":"c","band":"cyan","x":590,"y":85},{"shape":"c","band":"cyan","x":720,"y":130},{"shape":"c","band":"cyan","x":900,"y":185},{"shape":"c","band":"cyan","x":1040,"y":235},{"shape":"c","band":"cyan","x":1180,"y":295},{"shape":"c","band":"cyan","x":1210,"y":320},{"shape":"c","band":"cyan","x":1302,"y":360},{"shape":"c","band":"cyan","x":1302,"y":1075},{"shape":"c","band":"cyan","x":1272,"y":1108},{"shape":"c","band":"cyan","x":545,"y":1346},{"shape":"c","band":"cyan","x":503,"y":1332},{"shape":"c","band":"cyan","x":72,"y":746},{"shape":"c","band":"cyan","x":90,"y":690},{"shape":"c","band":"cyan","x":120,"y":620},{"shape":"c","band":"cyan","x":200,"y":510},{"shape":"c","band":"cyan","x":270,"y":430},{"shape":"c","band":"cyan","x":350,"y":280},{"shape":"c","band":"cyan","x":440,"y":170},{"shape":"c","band":"cyan","x":483,"y":95},{"shape":"c","band":"cyan","x":590,"y":85},
{"shape":"d","band":"navy","x":1302,"y":735},{"shape":"d","band":"navy","x":1295,"y":800},{"shape":"d","band":"navy","x":1295,"y":860},{"shape":"d","band":"navy","x":1302,"y":890},{"shape":"d","band":"navy","x":1302,"y":735},
{"shape":"e","band":"green","x":595,"y":115},{"shape":"e","band":"green","x":700,"y":150},{"shape":"e","band":"green","x":850,"y":200},{"shape":"e","band":"green","x":1000,"y":250},{"shape":"e","band":"green","x":1160,"y":305},{"shape":"e","band":"green","x":1210,"y":370},{"shape":"e","band":"green","x":1265,"y":405},{"shape":"e","band":"green","x":1272,"y":490},{"shape":"e","band":"green","x":1265,"y":555},{"shape":"e","band":"green","x":1273,"y":620},{"shape":"e","band":"green","x":1265,"y":740},{"shape":"e","band":"green","x":1278,"y":900},{"shape":"e","band":"green","x":1275,"y":970},{"shape":"e","band":"green","x":1258,"y":1040},{"shape":"e","band":"green","x":1270,"y":1108},{"shape":"e","band":"green","x":665,"y":1303},{"shape":"e","band":"green","x":610,"y":1312},{"shape":"e","band":"green","x":560,"y":1310},{"shape":"e","band":"green","x":505,"y":1282},{"shape":"e","band":"green","x":460,"y":1238},{"shape":"e","band":"green","x":340,"y":1092},{"shape":"e","band":"green","x":280,"y":1025},{"shape":"e","band":"green","x":165,"y":868},{"shape":"e","band":"green","x":112,"y":740},{"shape":"e","band":"green","x":145,"y":640},{"shape":"e","band":"green","x":210,"y":555},{"shape":"e","band":"green","x":290,"y":440},{"shape":"e","band":"green","x":370,"y":310},{"shape":"e","band":"green","x":440,"y":190},{"shape":"e","band":"green","x":500,"y":140},{"shape":"e","band":"green","x":595,"y":115},
{"shape":"f","band":"yellow","x":610,"y":158},{"shape":"f","band":"yellow","x":720,"y":190},{"shape":"f","band":"yellow","x":850,"y":235},{"shape":"f","band":"yellow","x":1000,"y":285},{"shape":"f","band":"yellow","x":1145,"y":330},{"shape":"f","band":"yellow","x":1215,"y":410},{"shape":"f","band":"yellow","x":1228,"y":500},{"shape":"f","band":"yellow","x":1237,"y":640},{"shape":"f","band":"yellow","x":1235,"y":800},{"shape":"f","band":"yellow","x":1240,"y":960},{"shape":"f","band":"yellow","x":1240,"y":990},{"shape":"f","band":"yellow","x":1210,"y":1040},{"shape":"f","band":"yellow","x":1208,"y":1095},{"shape":"f","band":"yellow","x":1150,"y":1105},{"shape":"f","band":"yellow","x":1105,"y":1160},{"shape":"f","band":"yellow","x":1040,"y":1170},{"shape":"f","band":"yellow","x":1000,"y":1175},{"shape":"f","band":"yellow","x":780,"y":1230},{"shape":"f","band":"yellow","x":630,"y":1280},{"shape":"f","band":"yellow","x":595,"y":1275},{"shape":"f","band":"yellow","x":505,"y":1245},{"shape":"f","band":"yellow","x":430,"y":1170},{"shape":"f","band":"yellow","x":240,"y":890},{"shape":"f","band":"yellow","x":190,"y":840},{"shape":"f","band":"yellow","x":155,"y":738},{"shape":"f","band":"yellow","x":172,"y":640},{"shape":"f","band":"yellow","x":280,"y":530},{"shape":"f","band":"yellow","x":390,"y":400},{"shape":"f","band":"yellow","x":480,"y":270},{"shape":"f","band":"yellow","x":520,"y":185},{"shape":"f","band":"yellow","x":610,"y":158},
{"shape":"g","band":"red","x":650,"y":292},{"shape":"g","band":"red","x":700,"y":293},{"shape":"g","band":"red","x":820,"y":325},{"shape":"g","band":"red","x":920,"y":350},{"shape":"g","band":"red","x":1050,"y":405},{"shape":"g","band":"red","x":1118,"y":470},{"shape":"g","band":"red","x":1170,"y":610},{"shape":"g","band":"red","x":1205,"y":800},{"shape":"g","band":"red","x":1208,"y":980},{"shape":"g","band":"red","x":1160,"y":1060},{"shape":"g","band":"red","x":1085,"y":1100},{"shape":"g","band":"red","x":975,"y":1135},{"shape":"g","band":"red","x":800,"y":1190},{"shape":"g","band":"red","x":610,"y":1242},{"shape":"g","band":"red","x":510,"y":1208},{"shape":"g","band":"red","x":435,"y":1120},{"shape":"g","band":"red","x":235,"y":810},{"shape":"g","band":"red","x":228,"y":740},{"shape":"g","band":"red","x":245,"y":660},{"shape":"g","band":"red","x":355,"y":530},{"shape":"g","band":"red","x":520,"y":350},{"shape":"g","band":"red","x":555,"y":322},{"shape":"g","band":"red","x":650,"y":292},
{"shape":"h","band":"maroon","x":730,"y":620},{"shape":"h","band":"maroon","x":810,"y":625},{"shape":"h","band":"maroon","x":895,"y":650},{"shape":"h","band":"maroon","x":1000,"y":755},{"shape":"h","band":"maroon","x":1020,"y":840},{"shape":"h","band":"maroon","x":1010,"y":940},{"shape":"h","band":"maroon","x":985,"y":1005},{"shape":"h","band":"maroon","x":915,"y":1045},{"shape":"h","band":"maroon","x":790,"y":1095},{"shape":"h","band":"maroon","x":650,"y":1120},{"shape":"h","band":"maroon","x":550,"y":1065},{"shape":"h","band":"maroon","x":470,"y":950},{"shape":"h","band":"maroon","x":455,"y":820},{"shape":"h","band":"maroon","x":465,"y":770},{"shape":"h","band":"maroon","x":570,"y":650},{"shape":"h","band":"maroon","x":620,"y":640},{"shape":"h","band":"maroon","x":730,"y":620},
{"shape":"i","band":"green","x":930,"y":1198},{"shape":"i","band":"green","x":1028,"y":1168},{"shape":"i","band":"green","x":980,"y":1188},{"shape":"i","band":"green","x":930,"y":1198}
]},"mark":{"type":"line","filled":true,"stroke":"#0c1a16","strokeWidth":2,"strokeJoin":"round"},"encoding":{"detail":{"field":"shape"},"order":{"value":null},"color":{"field":"band","type":"nominal","legend":null,"scale":{"domain":["navy","blue","cyan","green","yellow","red","maroon"],"range":["#20307f","#3a55a5","#45c6ec","#9dce6c","#fcd309","#ee3124","#7f1416"]}}}},
{"data":{"values":[
{"x":395,"y":285,"label":"0.28","angle":-45,"tone":"teal"},{"x":345,"y":312,"label":"0.00","angle":-55,"tone":"blue"},{"x":290,"y":482,"label":"0.52","angle":-40,"tone":"olive"},{"x":325,"y":552,"label":"0.76","angle":-45,"tone":"rust"},{"x":505,"y":715,"label":"1","angle":-40,"tone":"rust"},{"x":537,"y":1295,"label":"0.28","angle":5,"tone":"teal"},{"x":1293,"y":810,"label":"0.04","angle":-88,"tone":"blue"},{"x":140,"y":578,"label":"-0.24","angle":-50,"tone":"blue"},{"x":1165,"y":258,"label":"-0.24","angle":16,"tone":"blue"}
]},"mark":{"type":"text","font":"Liberation Sans","fontSize":31,"opacity":0.85},"encoding":{"text":{"field":"label"},"angle":{"field":"angle","type":"quantitative","scale":null},"color":{"field":"tone","type":"nominal","legend":null,"scale":{"domain":["navy","blue","teal","olive","rust"],"range":["#1b2370","#2a4aa0","#1f7f85","#46701f","#7d3a18"]}}}},
{"data":{"values":[{"x":607,"y":1543,"text":"α"}]},"mark":{"type":"text","font":"Liberation Serif","fontStyle":"italic","fontSize":118,"align":"left","baseline":"alphabetic","color":"#000000"},"encoding":{"text":{"field":"text"}}},
{"data":{"values":[{"x":697,"y":1543,"text":"= 90°"}]},"mark":{"type":"text","font":"Liberation Serif","fontSize":118,"align":"left","baseline":"alphabetic","color":"#000000"},"encoding":{"text":{"field":"text"}}}
]},
{"width":46,"height":1721,"data":{"values":[{"low":-0.44,"high":1}]},"mark":{"type":"rect","stroke":"#8f6a6a","strokeWidth":2,"fill":{"gradient":"linear","x1":0,"y1":0,"x2":0,"y2":1,"stops":[{"offset":0,"color":"#761417"},{"offset":0.143,"color":"#ed1c24"},{"offset":0.28,"color":"#f7941d"},{"offset":0.37,"color":"#f2e51a"},{"offset":0.455,"color":"#a8cf45"},{"offset":0.565,"color":"#70c19a"},{"offset":0.62,"color":"#6dcad0"},{"offset":0.675,"color":"#27bdef"},{"offset":0.75,"color":"#3a6fb8"},{"offset":0.845,"color":"#3a53a4"},{"offset":1,"color":"#232a78"}]}},"encoding":{"y":{"field":"high","type":"quantitative","scale":{"domain":[-0.63441,1.04689],"nice":false,"zero":false},"axis":{"orient":"right","title":null,"domain":false,"grid":false,"values":[1,0.7943,0.5886,0.3829,0.1749,-0.0286,-0.2351,-0.44],"format":".2f","tickColor":"#8a8a8a","tickSize":16,"tickWidth":2,"labelFont":"Liberation Sans","labelFontSize":25,"labelColor":"#555555","labelPadding":10,"labelOverlap":false,"labelBound":false,"labelFlush":false}},"y2":{"field":"low"}}}
]}
